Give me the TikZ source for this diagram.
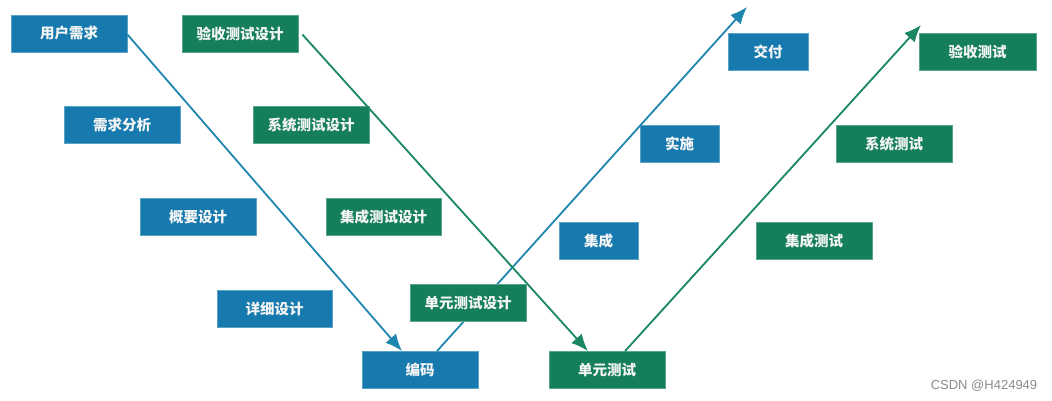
\documentclass[tikz,border=0pt]{standalone}
\usepackage{fontspec}
\setmainfont{Noto Sans CJK SC}
\newfontfamily\wmfont{Liberation Sans}
\usetikzlibrary{arrows.meta}
\definecolor{bbox}{RGB}{22,122,174}
\definecolor{gbox}{RGB}{20,127,88}
\definecolor{bline}{RGB}{30,135,175}
\definecolor{gline}{RGB}{25,135,95}
\begin{document}
\begin{tikzpicture}[x=1pt,y=-1pt,
  base/.style={minimum height=37pt,inner sep=0pt,text=white!92!gray,font=\fontsize{14.5}{16}\selectfont\bfseries,line width=0.8pt},
  bluebox/.style={base,fill=bbox,draw=bbox!70!white},
  greenbox/.style={base,fill=gbox,draw=gbox!70!white},
  barrow/.style={draw=bline,line width=1.8pt,-{Latex[length=17pt,width=14pt]}},
  garrow/.style={draw=gline,line width=1.8pt,-{Latex[length=17pt,width=14pt]}},
]
\useasboundingbox (0,0) rectangle (1052,400);
\fill[white] (0,0) rectangle (1052,400);
\coordinate (tipA) at (747,7);
\coordinate (tipB) at (921,25);
\path
  node[bluebox,minimum width=116pt] (u) at (69,33.5) {用户需求}
  node[bluebox,minimum width=116pt] (xqfx) at (122,125) {需求分析}
  node[bluebox,minimum width=116pt] (gysj) at (198,217) {概要设计}
  node[bluebox,minimum width=115pt] (xxsj) at (274.5,308.5) {详细设计}
  node[bluebox,minimum width=116pt] (bm) at (420,370) {编码}
  node[bluebox,minimum width=79pt] (jc) at (598.5,241) {集成}
  node[bluebox,minimum width=79pt] (ss) at (679.5,144) {实施}
  node[bluebox,minimum width=80pt] (jf) at (768,52) {交付}
  node[greenbox,minimum width=116pt] (yscsj) at (240,33.5) {验收测试设计}
  node[greenbox,minimum width=116pt] (xtcsj) at (311,125) {系统测试设计}
  node[greenbox,minimum width=115pt] (jccsj) at (383.5,217) {集成测试设计}
  node[greenbox,minimum width=116pt] (dycs) at (607,370) {单元测试}
  node[greenbox,minimum width=116pt] (jccs) at (814,241) {集成测试}
  node[greenbox,minimum width=116pt] (xtcs) at (894,144) {系统测试}
  node[greenbox,minimum width=117pt] (yscs) at (977.5,52) {验收测试};
\draw[barrow] ([yshift=-1pt]u.east) -- ([xshift=-18pt]bm.north);
\draw[barrow] ([xshift=17pt]bm.north) -- (tipA);
\draw[garrow] ([xshift=4pt,yshift=-1pt]yscsj.east) -- ([xshift=-19pt]dycs.north);
\draw[garrow] ([xshift=18pt]dycs.north) -- (tipB);
\node[greenbox,minimum width=116pt] (dycsj) at (468,303) {单元测试设计};
\node[text=black!45,font=\wmfont\fontsize{13}{15}\selectfont,inner sep=0pt] (wm) at (984,386) {CSDN @H424949};
\end{tikzpicture}
\end{document}
